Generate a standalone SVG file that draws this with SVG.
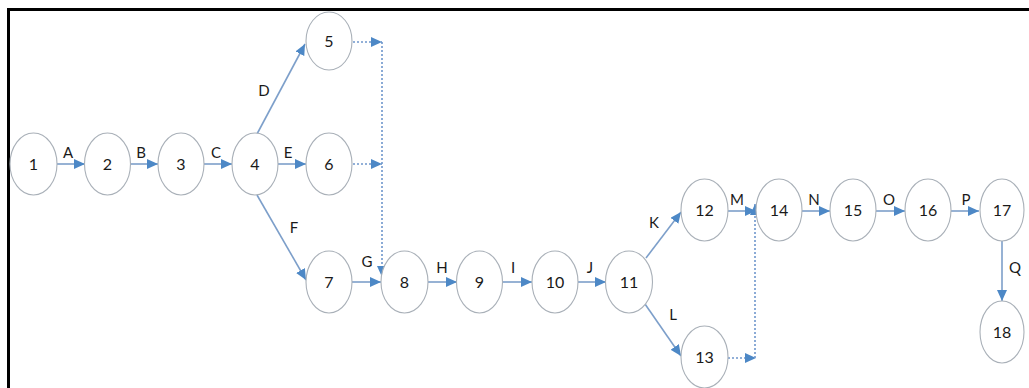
<svg xmlns="http://www.w3.org/2000/svg" width="1029" height="388" viewBox="0 0 1029 388">
<style>
.node ellipse{fill:#ffffff;stroke:#a9b0b8;stroke-width:1.1}
.node text{font-family:Lato,"Liberation Sans",sans-serif;font-size:16px;fill:#1a1a1a;text-anchor:middle}
.lbl{font-family:Lato,"Liberation Sans",sans-serif;font-size:15px;fill:#1a1a1a;text-anchor:middle}
.e{stroke:#7d9fca;stroke-width:1.6;fill:none;marker-end:url(#ah)}
.da{stroke:#6f97cc;stroke-width:1.6;fill:none;stroke-dasharray:2 2;marker-end:url(#ah)}
</style>
<defs>
<marker id="ah" markerUnits="userSpaceOnUse" markerWidth="12" markerHeight="10" refX="11" refY="5" orient="auto">
<path d="M0,0 L11,5 L0,10 z" fill="#4d88c6"/>
</marker>
</defs>
<rect x="0" y="0" width="1029" height="388" fill="#ffffff"/>
<path d="M8.5,388 V9.5 H1029" fill="none" stroke="#000" stroke-width="3"/>
<g id="connectors">
<line class="e" x1="57" y1="164" x2="85" y2="164"/>
<line class="e" x1="130" y1="164" x2="158" y2="164"/>
<line class="e" x1="204" y1="164" x2="232" y2="164"/>
<line class="e" x1="278" y1="164" x2="306" y2="164"/>
<line class="e" x1="257" y1="134" x2="305" y2="44"/>
<line class="e" x1="257" y1="195" x2="306" y2="280"/>
<line class="da" x1="353" y1="42" x2="382" y2="42"/>
<line class="da" x1="353" y1="164" x2="382" y2="164"/>
<line class="da" x1="382" y1="42" x2="382" y2="277"/>
<line class="e" x1="352" y1="282" x2="381" y2="282"/>
<line class="e" x1="428" y1="282" x2="457" y2="282"/>
<line class="e" x1="502" y1="282" x2="532" y2="282"/>
<line class="e" x1="578" y1="282" x2="606" y2="282"/>
<line class="e" x1="646" y1="258" x2="681" y2="212"/>
<line class="e" x1="645" y1="304" x2="681" y2="356"/>
<line class="e" x1="728" y1="211" x2="756" y2="211"/>
<line class="da" x1="728" y1="358" x2="756" y2="358"/>
<line class="da" x1="755" y1="358" x2="755" y2="204"/>
<line class="e" x1="802" y1="211" x2="830" y2="211"/>
<line class="e" x1="876" y1="211" x2="905" y2="211"/>
<line class="e" x1="951" y1="211" x2="979" y2="211"/>
<line class="e" x1="1002" y1="241" x2="1002" y2="301"/>
</g>
<g id="edge-labels">
<text class="lbl" x="68" y="158">A</text>
<text class="lbl" x="141" y="158">B</text>
<text class="lbl" x="216" y="158">C</text>
<text class="lbl" x="264" y="96">D</text>
<text class="lbl" x="288" y="158">E</text>
<text class="lbl" x="294" y="233">F</text>
<text class="lbl" x="367" y="267">G</text>
<text class="lbl" x="442" y="273">H</text>
<text class="lbl" x="513" y="273">I</text>
<text class="lbl" x="590" y="273">J</text>
<text class="lbl" x="654" y="228">K</text>
<text class="lbl" x="673" y="320">L</text>
<text class="lbl" x="737" y="205">M</text>
<text class="lbl" x="814" y="205">N</text>
<text class="lbl" x="889" y="205">O</text>
<text class="lbl" x="966" y="205">P</text>
<text class="lbl" x="1015" y="273">Q</text>
</g>
<g id="n1" class="node"><ellipse cx="33.5" cy="164" rx="23.5" ry="31"/><text x="33.5" y="170">1</text></g>
<g id="n2" class="node"><ellipse cx="107.5" cy="164" rx="23" ry="31"/><text x="107.5" y="170">2</text></g>
<g id="n3" class="node"><ellipse cx="181" cy="164" rx="23" ry="31"/><text x="181" y="170">3</text></g>
<g id="n4" class="node"><ellipse cx="255" cy="164" rx="23" ry="31"/><text x="255" y="170">4</text></g>
<g id="n5" class="node"><ellipse cx="329" cy="41" rx="23" ry="29"/><text x="329" y="47">5</text></g>
<g id="n6" class="node"><ellipse cx="329" cy="164" rx="23" ry="31"/><text x="329" y="170">6</text></g>
<g id="n7" class="node"><ellipse cx="329" cy="282" rx="23" ry="31"/><text x="329" y="288">7</text></g>
<g id="n8" class="node"><ellipse cx="404.5" cy="282" rx="23.5" ry="31"/><text x="404.5" y="288">8</text></g>
<g id="n9" class="node"><ellipse cx="479.5" cy="282" rx="23" ry="31"/><text x="479.5" y="288">9</text></g>
<g id="n10" class="node"><ellipse cx="555" cy="282" rx="23" ry="31"/><text x="555" y="288">10</text></g>
<g id="n11" class="node"><ellipse cx="629" cy="282" rx="23.5" ry="31"/><text x="629" y="288">11</text></g>
<g id="n12" class="node"><ellipse cx="704.5" cy="210" rx="23.5" ry="31"/><text x="704.5" y="216">12</text></g>
<g id="n13" class="node"><ellipse cx="704.5" cy="357" rx="23.5" ry="31"/><text x="704.5" y="363">13</text></g>
<g id="n14" class="node"><ellipse cx="779" cy="210" rx="23" ry="31"/><text x="779" y="216">14</text></g>
<g id="n15" class="node"><ellipse cx="853" cy="210" rx="23" ry="31"/><text x="853" y="216">15</text></g>
<g id="n16" class="node"><ellipse cx="928" cy="210" rx="23" ry="31"/><text x="928" y="216">16</text></g>
<g id="n17" class="node"><ellipse cx="1002" cy="210" rx="22" ry="31"/><text x="1002" y="216">17</text></g>
<g id="n18" class="node"><ellipse cx="1002" cy="332" rx="22" ry="31"/><text x="1002" y="338">18</text></g>
</svg>
